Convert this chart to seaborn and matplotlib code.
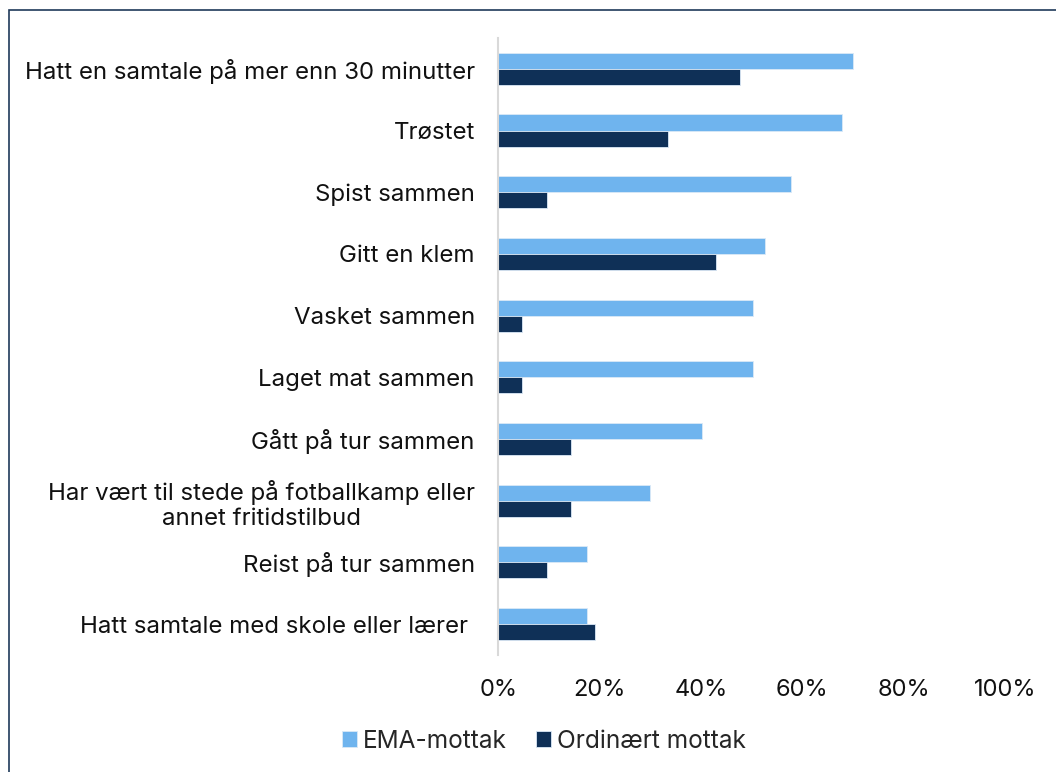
import pandas as pd
import matplotlib.pyplot as plt
import seaborn as sns
from matplotlib.patches import Rectangle
from matplotlib.ticker import PercentFormatter

categories = [
    "Hatt en samtale på mer enn 30 minutter",
    "Trøstet",
    "Spist sammen",
    "Gitt en klem",
    "Vasket sammen",
    "Laget mat sammen",
    "Gått på tur sammen",
    "Har vært til stede på fotballkamp eller\nannet fritidstilbud",
    "Reist på tur sammen",
    "Hatt samtale med skole eller lærer ",
]
ema = [0.70, 0.678, 0.577, 0.526, 0.502, 0.502, 0.401, 0.30, 0.175, 0.175]
ordinaert = [0.477, 0.334, 0.095, 0.43, 0.047, 0.047, 0.143, 0.143, 0.095, 0.191]
series = ["EMA-mottak", "Ordinært mottak"]
colors = ["#6fb4ee", "#0f3057"]

df = pd.DataFrame({
    "kategori": categories * 2,
    "andel": ema + ordinaert,
    "gruppe": [series[0]] * len(categories) + [series[1]] * len(categories),
})

sns.set_theme(style="white")
plt.rcParams['font.family'] = ['Inter', 'DejaVu Sans']

fig = plt.figure(figsize=(10.56, 7.72), dpi=100)
ax = fig.add_axes([0.472, 0.1516, 0.4797, 0.7992])

sns.barplot(data=df, y="kategori", x="andel", hue="gruppe", orient="h",
            palette=colors, width=0.52, ax=ax, saturation=1,
            edgecolor="#dbe9f7", linewidth=0.6)

ax.set_xlim(0, 1)
ax.set_ylim(len(categories) - 0.5, -0.5)
ax.xaxis.set_major_formatter(PercentFormatter(1.0, decimals=0))
ax.set_xticks([0, 0.2, 0.4, 0.6, 0.8, 1.0])
ax.set_xlabel("")
ax.set_ylabel("")
for s in ["top", "right", "bottom"]:
    ax.spines[s].set_visible(False)
ax.spines["left"].set_color("#d9d9d9")
ax.spines["left"].set_linewidth(1.5)
ax.tick_params(axis="y", length=0, pad=17, labelsize=17.3, labelcolor="#111111")
ax.tick_params(axis="x", length=0, pad=17, labelsize=17, labelcolor="#111111")
for lab in ax.get_yticklabels():
    lab.set_multialignment("center")
ax.grid(False)

handles, labels = ax.get_legend_handles_labels()
ax.legend_.remove()
fig.legend(handles, labels, loc="center", bbox_to_anchor=(0.515, 0.04), ncol=2,
           frameon=False, fontsize=17.6, handlelength=0.6, handleheight=0.6,
           handletextpad=0.25, columnspacing=1.2)

fig.patches.append(Rectangle((9 / 1056, -0.1), 1.2, (1 - 10 / 772) + 0.1,
                             transform=fig.transFigure, fill=False,
                             edgecolor="#1f3a5a", linewidth=1.2))

fig.savefig("out.png", dpi=100)
